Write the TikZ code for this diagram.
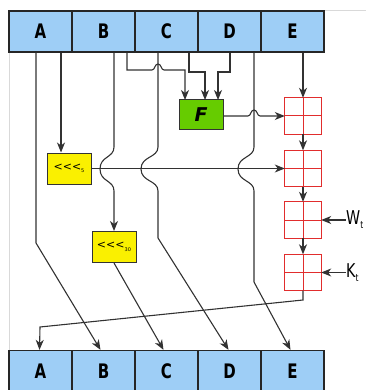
\documentclass[tikz,border=0pt]{standalone}
\usepackage{fontspec}
\setmainfont{DejaVu Sans}
\newfontfamily\condf[FakeStretch=0.75]{DejaVu Sans}
\usetikzlibrary{arrows.meta,calc}
\definecolor{regblue}{RGB}{158,206,246}
\definecolor{fgreen}{RGB}{102,204,0}
\definecolor{ryellow}{RGB}{250,240,0}
\definecolor{addred}{RGB}{225,45,45}
\definecolor{wire}{RGB}{50,50,50}
\begin{document}
\begin{tikzpicture}[x=1pt,y=-1pt,
  wireline/.style={draw=wire, line width=1.1pt},
  arr/.style={wireline, -{Stealth[length=10pt,width=8pt,inset=3pt]}},
  regbox/.style={draw=black!85, line width=1.3pt, fill=regblue, minimum width=63pt, minimum height=41pt, inner sep=0pt, font=\condf\bfseries\fontsize{20}{20}\selectfont},
  rotbox/.style={draw=black!80, line width=1pt, fill=ryellow, minimum width=44pt, minimum height=31pt, inner sep=0pt},
  fbox/.style={draw=black!80, line width=1pt, fill=fgreen, minimum width=44pt, minimum height=30pt, inner sep=0pt, font=\bfseries\itshape\fontsize{19}{19}\selectfont},
  addbox/.style={minimum size=36pt, inner sep=0pt},
  addline/.style={draw=addred, line width=1pt},
  frameline/.style={draw=black!15, line width=0.8pt},
  lbl/.style={inner sep=0pt, anchor=west, font=\condf\fontsize{19}{19}\selectfont}
]
\useasboundingbox (0,0) rectangle (366,390);
% frame
\draw[frameline] (324,10) -- (366,10);
\draw[frameline] (9,52) -- (9,350);
% adders
\node[addbox] (r1) at (303,116) {};
\node[addbox] (r2) at (303,168.5) {};
\node[addbox] (r3) at (303,220) {};
\node[addbox] (r4) at (303,272.5) {};
\foreach \r in {r1,r2,r3,r4}{
  \draw[addline, fill=white] (\r.north west) rectangle (\r.south east);
  \draw[addline] (\r.north) -- (\r.south) (\r.west) -- (\r.east);
}
% registers
\foreach \n/\x in {A/40.5,B/103.5,C/166.5,D/229.5,E/292.5}{
  \node[regbox] (t\n) at (\x,31.5) {\n};
  \node[regbox] (b\n) at (\x,371) {\n};
}
% function and rotations
\node[fbox] (F) at (201,115) {F};
\node[rotbox] (rot5) at (69,168.5) {{\fontsize{11}{11}\selectfont <{}<{}<}\raisebox{-2.5pt}{\fontsize{5}{5}\selectfont 5}};
\node[rotbox] (rot30) at (114,247) {{\fontsize{11}{11}\selectfont <{}<{}<}\raisebox{-2.5pt}{\fontsize{5}{5}\selectfont 30}};
% labels
\node[lbl] (W) at (346,220) {W\raisebox{-4pt}{\fontsize{10}{10}\selectfont t}};
\node[lbl] (K) at (346,272.5) {K\raisebox{-4pt}{\fontsize{10}{10}\selectfont t}};
% coordinates
\coordinate (fa) at (185,100);
\coordinate (fb) at (205,100);
\coordinate (fc) at (218,100);
% A lines
\draw[arr] (tA.south -| 36,0) -- (36,243) -- ([xshift=-3pt]bB.north);
\draw[arr] (tA.south -| 61,0) -- (rot5.north -| 61,0);
% B line
\draw[arr] (tB.south -| 114,0) -- (114,147) .. controls (114,158) and (100,156) .. (100,169) .. controls (100,182) and (114,180) .. (114,191) -- (rot30.north);
\draw[arr] (rot30.south) -- ([xshift=-3pt]bC.north);
% C lines
\draw[arr] (tC.south -| 127,0) -- (127,70) -- (152,70) .. controls (155,70) and (154.5,64) .. (158,64) .. controls (161.5,64) and (161,70) .. (164,70) -- (185,70) -- (fa);
\draw[arr] (tC.south -| 158,0) -- (158,147) .. controls (158,158) and (141,156) .. (141,169) .. controls (141,182) and (158,180) .. (158,191) -- (158,238) -- ([xshift=-1pt]bD.north);
% D lines
\draw[arr] (tD.south -| 189,0) -- (189,72) -- (205,72) -- (fb);
\draw[arr] (tD.south -| 230,0) -- (230,72) -- (218,72) -- (fc);
\draw[arr] (tD.south -| 254,0) -- (254,147) .. controls (254,158) and (238,156) .. (238,169) .. controls (238,182) and (254,180) .. (254,191) -- (254,282) -- ([xshift=-2pt]bE.north);
% F to adder
\draw[arr] (F.east |- 0,116) -- (248,116) .. controls (251,116) and (250.5,110) .. (254,110) .. controls (257.5,110) and (257,116) .. (260,116) -- (r1.west);
% E to adder
\draw[arr] (tE.south -| r1.north) -- (r1.north);
% rot5 to adder
\draw[arr] (rot5.east) -- (r2.west);
% adder chain
\draw[arr] (r1.south) -- (r2.north);
\draw[arr] (r2.south) -- (r3.north);
\draw[arr] (r3.south) -- (r4.north);
\draw[arr] (W.west) -- (r3.east);
\draw[arr] (K.west) -- (r4.east);
% result to A
\draw[arr] (r4.south) -- (303,300) -- (40,327) -- ([xshift=-1pt]bA.north);
\end{tikzpicture}
\end{document}
